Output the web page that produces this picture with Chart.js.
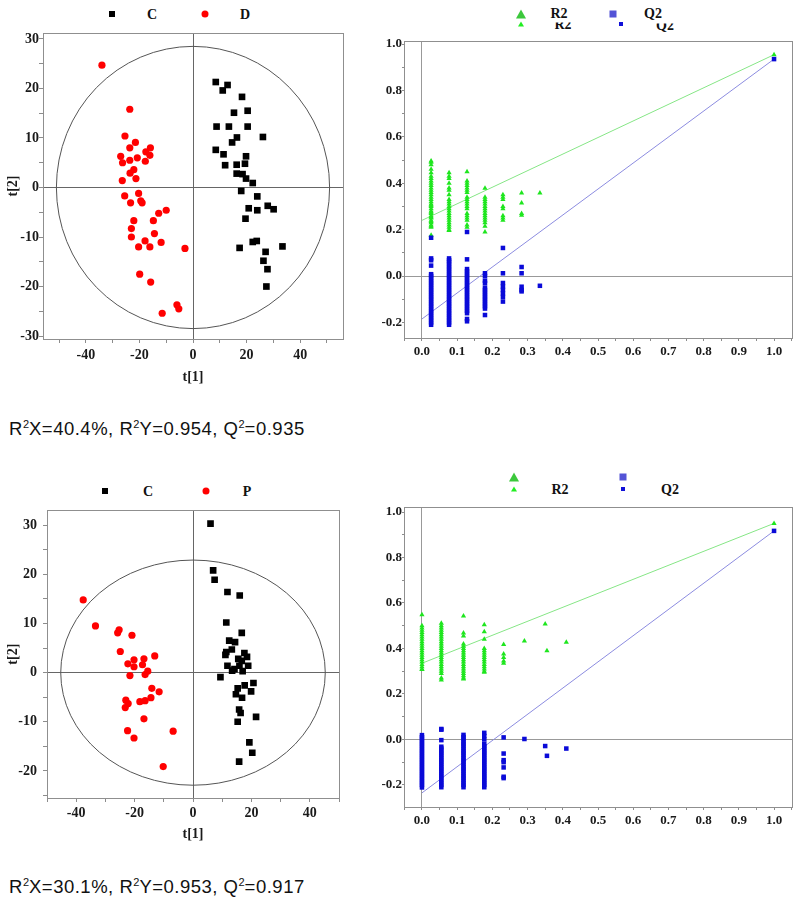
<!DOCTYPE html>
<html>
<head>
<meta charset="utf-8">
<script src="https://cdn.jsdelivr.net/npm/chart.js@4.4.1/dist/chart.umd.min.js"></script>
<style>
body { margin: 0; background: #fff; width: 800px; height: 913px; position: relative; overflow: hidden; }
canvas { position: absolute; }
.lg { position: absolute; font: bold 14px "Liberation Serif", serif; color: #111; transform: translate(-50%, -50%); white-space: nowrap; }
.mk { position: absolute; transform: translate(-50%, -50%); }
.tri { width: 0; height: 0; border-left: 5px solid transparent; border-right: 5px solid transparent; border-bottom: 9px solid #3cc83c; }
.tri.small { border-left-width: 3px; border-right-width: 3px; border-bottom: 5px solid #22ee22; }
.cut { clip-path: inset(35% 0 0 0); }
.cap { position: absolute; left: 9px; font: 18.5px "Liberation Sans", Arial, sans-serif; letter-spacing: 0.5px; color: #111; white-space: nowrap; }
.cap sup { font-size: 11px; vertical-align: 7px; line-height: 0; letter-spacing: 0; }
</style>
</head>
<body>

<!-- legends -->
<div class="mk" style="left:112px;top:14px;width:6px;height:6px;background:#000"></div>
<div class="lg" style="left:152px;top:15px">C</div>
<div class="mk" style="left:205px;top:14px;width:7px;height:7px;border-radius:50%;background:#f00"></div>
<div class="lg" style="left:245px;top:15px">D</div>

<div class="mk tri" style="left:521px;top:14px"></div>
<div class="lg" style="left:559px;top:14px">R2</div>
<div class="mk tri small" style="left:521px;top:24px"></div>
<div class="lg cut" style="left:563px;top:25px">R2</div>
<div class="mk" style="left:613px;top:14px;width:7px;height:7px;background:#5353d6"></div>
<div class="lg" style="left:653px;top:14px">Q2</div>
<div class="mk" style="left:621px;top:24px;width:4px;height:4px;background:#1010d8"></div>
<div class="lg cut" style="left:665px;top:26px">Q2</div>

<div class="mk" style="left:105px;top:491px;width:6px;height:6px;background:#000"></div>
<div class="lg" style="left:148px;top:492px">C</div>
<div class="mk" style="left:206px;top:491px;width:7px;height:7px;border-radius:50%;background:#f00"></div>
<div class="lg" style="left:247px;top:492px">P</div>

<div class="mk tri" style="left:514px;top:477px"></div>
<div class="mk" style="left:623px;top:477px;width:7px;height:7px;background:#5353d6"></div>
<div class="mk tri small" style="left:514px;top:489px"></div>
<div class="lg" style="left:560px;top:490px">R2</div>
<div class="mk" style="left:623px;top:489px;width:4px;height:4px;background:#1010d8"></div>
<div class="lg" style="left:670px;top:490px">Q2</div>

<canvas id="scoreCD" width="358" height="380" style="left:0;top:10px"></canvas>
<canvas id="permCD" width="440" height="340" style="left:360px;top:28px"></canvas>
<canvas id="scoreCP" width="352" height="351" style="left:0;top:496px"></canvas>
<canvas id="permCP" width="440" height="340" style="left:360px;top:494px"></canvas>

<div class="cap" style="top:418px">R<sup>2</sup>X=40.4%, R<sup>2</sup>Y=0.954, Q<sup>2</sup>=0.935</div>
<div class="cap" style="top:876px">R<sup>2</sup>X=30.1%, R<sup>2</sup>Y=0.953, Q<sup>2</sup>=0.917</div>

<script>
// ---- score plot C vs D : [t1, t2]
const scoreC_D_groupC = [
  [8.5, 21.3], [12.9, 20.7], [11.1, 19.6], [18.3, 18.3], [15.3, 15.1], [20.4, 15.5],
  [8.8, 12.3], [13.4, 12.3], [20.4, 12.3], [26.1, 10.2], [16.4, 10.1], [14.6, 9.1],
  [8.5, 7.6], [11.4, 6.7], [19.8, 6.3], [19.4, 4.8], [12.0, 4.5], [16.3, 4.6],
  [16.3, 2.8], [18.5, 2.7], [19.8, 1.8], [22.3, 0.9], [18.0, -0.7], [24.0, -1.8],
  [20.8, -4.2], [24.0, -4.6], [27.9, -3.7], [30.1, -4.4], [19.6, -6.3], [22.3, -11.0],
  [23.8, -10.8], [17.4, -12.2], [33.4, -11.9], [27.1, -13.0], [26.3, -14.8], [27.8, -16.5],
  [27.4, -20.0]
];
const scoreC_D_groupD = [
  [-34.0, 24.7], [-23.6, 15.8], [-25.4, 10.4], [-21.5, 9.1], [-23.6, 8.0], [-15.9, 8.0],
  [-17.6, 7.2], [-16.1, 6.5], [-27.0, 6.3], [-20.8, 6.0], [-23.6, 5.5], [-17.8, 5.3],
  [-26.3, 5.0], [-22.1, 3.6], [-23.5, 2.9], [-21.3, 1.8], [-26.4, 1.4], [-20.3, -1.2],
  [-25.5, -1.7], [-19.5, -2.7], [-23.3, -3.1], [-19.0, -3.1], [-10.0, -4.6], [-12.8, -5.2],
  [-22.1, -6.7], [-14.8, -6.7], [-23.0, -8.3], [-14.4, -9.3], [-23.0, -10.0], [-17.9, -10.8],
  [-11.9, -11.1], [-20.3, -12.0], [-16.1, -12.0], [-3.0, -12.3], [-19.9, -17.5], [-15.8, -19.1],
  [-6.0, -23.7], [-5.3, -24.5], [-11.5, -25.4]
];
const ellipseCD = { rx: 51, ry: 28.5 };

// ---- score plot C vs P : [t1, t2]
const scoreC_P_groupC = [
  [6.0, 30.3], [6.9, 20.8], [7.4, 18.9], [11.8, 16.4], [16.0, 15.7], [11.4, 10.2],
  [16.7, 8.1], [12.4, 6.5], [14.4, 6.2], [13.3, 4.7], [11.4, 4.2], [11.1, 3.6],
  [17.6, 4.0], [18.5, 3.2], [15.5, 2.8], [16.7, 2.4], [11.8, 1.4], [15.9, 1.4],
  [18.9, 1.4], [14.2, 0.7], [13.4, 0.4], [17.0, 0.3], [9.4, -0.9], [20.7, -2.1],
  [17.7, -2.6], [15.3, -3.2], [19.9, -3.8], [14.7, -4.4], [16.8, -5.1], [15.8, -7.5],
  [16.3, -8.2], [21.6, -9.0], [15.3, -10.0], [19.3, -14.2], [20.3, -16.3], [15.8, -18.1]
];
const scoreC_P_groupP = [
  [-37.6, 14.8], [-33.4, 9.5], [-25.3, 8.7], [-25.8, 8.1], [-20.9, 7.6], [-24.9, 4.3],
  [-13.1, 3.4], [-16.8, 2.8], [-20.2, 2.6], [-22.3, 1.8], [-17.3, 1.6], [-20.2, 1.2],
  [-15.5, 0.3], [-16.4, -0.4], [-21.6, -0.6], [-14.1, -3.2], [-11.6, -3.9], [-14.4, -5.1],
  [-23.0, -5.6], [-16.4, -5.7], [-18.2, -5.9], [-22.2, -6.3], [-23.2, -7.1], [-16.8, -9.4],
  [-22.4, -11.8], [-6.8, -11.9], [-20.2, -13.3], [-10.2, -19.1]
];
const ellipseCP = { rx: 45.3, ry: 22.9 };

// ---- permutation test C vs D (x = correlation, columns of R2 / Q2 values)
const permCD_x = [0.026, 0.077, 0.128, 0.179, 0.23, 0.283, 0.335];
const permCD_R2 = [
  [0.176, 0.21, 0.215, 0.22, 0.23, 0.235, 0.24, 0.25, 0.255, 0.26, 0.27, 0.275, 0.28, 0.29, 0.3, 0.305, 0.31, 0.32, 0.33, 0.34, 0.35, 0.36, 0.37, 0.38, 0.39, 0.4, 0.41, 0.42, 0.43, 0.445, 0.46, 0.48, 0.49, 0.496],
  [0.196, 0.2, 0.21, 0.22, 0.23, 0.24, 0.25, 0.26, 0.27, 0.28, 0.29, 0.3, 0.31, 0.32, 0.33, 0.35, 0.37, 0.38, 0.4, 0.42, 0.43, 0.445],
  [0.21, 0.22, 0.24, 0.25, 0.26, 0.27, 0.29, 0.3, 0.31, 0.32, 0.33, 0.34, 0.36, 0.37, 0.38, 0.39, 0.4, 0.41, 0.449],
  [0.19, 0.215, 0.23, 0.24, 0.25, 0.26, 0.27, 0.28, 0.29, 0.3, 0.31, 0.32, 0.33, 0.34, 0.378],
  [0.24, 0.25, 0.26, 0.29, 0.3, 0.33, 0.34, 0.35],
  [0.262, 0.27, 0.315, 0.358],
  [0.358]
];
const permCD_Q2 = [
  [0.165, 0.076, 0.068, 0.045, 0.008, 0.0, -0.01, -0.02, -0.03, -0.04, -0.05, -0.06, -0.07, -0.08, -0.09, -0.1, -0.11, -0.12, -0.13, -0.14, -0.15, -0.16, -0.17, -0.18, -0.19, -0.2, -0.21],
  [0.076, 0.068, 0.06, 0.05, 0.04, 0.03, 0.02, 0.01, 0.0, -0.01, -0.02, -0.03, -0.04, -0.05, -0.06, -0.07, -0.08, -0.09, -0.1, -0.11, -0.12, -0.13, -0.14, -0.15, -0.16, -0.17, -0.18, -0.19, -0.2, -0.21],
  [0.19, 0.072, 0.03, 0.02, 0.01, 0.0, -0.01, -0.02, -0.03, -0.04, -0.05, -0.06, -0.07, -0.08, -0.09, -0.1, -0.11, -0.12, -0.13, -0.14, -0.15, -0.16, -0.185, -0.195],
  [0.012, 0.0, -0.02, -0.03, -0.05, -0.06, -0.07, -0.08, -0.09, -0.1, -0.11, -0.12, -0.13, -0.14, -0.168],
  [0.121, 0.012, -0.03, -0.045, -0.06, -0.075, -0.09, -0.11],
  [0.039, 0.012, -0.046, -0.06, -0.066],
  [-0.042]
];
const permCD_model = { R2: 0.954, Q2: 0.935 };
const permCD_intercepts = { R2: 0.24, Q2: -0.185 };

// ---- permutation test C vs P
const permCP_x = [0.0, 0.055, 0.118, 0.177, 0.232, 0.291, 0.35, 0.355, 0.41];
const permCP_R2 = [
  [0.307, 0.31, 0.32, 0.33, 0.34, 0.35, 0.36, 0.37, 0.38, 0.39, 0.4, 0.41, 0.42, 0.43, 0.44, 0.45, 0.46, 0.47, 0.48, 0.49, 0.5, 0.548],
  [0.261, 0.27, 0.29, 0.3, 0.31, 0.32, 0.33, 0.34, 0.35, 0.36, 0.37, 0.38, 0.39, 0.4, 0.41, 0.42, 0.43, 0.44, 0.45, 0.46, 0.47, 0.48, 0.49, 0.5, 0.511],
  [0.266, 0.27, 0.28, 0.29, 0.3, 0.31, 0.32, 0.33, 0.34, 0.35, 0.36, 0.37, 0.38, 0.39, 0.4, 0.41, 0.42, 0.455, 0.468, 0.543],
  [0.295, 0.3, 0.31, 0.32, 0.33, 0.34, 0.35, 0.36, 0.37, 0.38, 0.39, 0.4, 0.44, 0.474, 0.504],
  [0.335, 0.345, 0.36, 0.376, 0.418],
  [0.433],
  [0.508],
  [0.39],
  [0.427]
];
const permCP_Q2 = [
  [0.019, 0.01, 0.0, -0.01, -0.02, -0.03, -0.04, -0.05, -0.06, -0.07, -0.08, -0.09, -0.1, -0.11, -0.12, -0.13, -0.14, -0.15, -0.16, -0.17, -0.18, -0.19, -0.2, -0.211],
  [0.046, 0.043, -0.003, -0.032, -0.04, -0.05, -0.06, -0.07, -0.08, -0.09, -0.1, -0.11, -0.12, -0.13, -0.14, -0.15, -0.16, -0.17, -0.18, -0.19, -0.2, -0.21],
  [0.02, 0.01, 0.0, -0.01, -0.02, -0.03, -0.04, -0.05, -0.06, -0.07, -0.08, -0.09, -0.1, -0.11, -0.12, -0.13, -0.14, -0.15, -0.16, -0.17, -0.18, -0.19, -0.2, -0.21],
  [0.029, 0.015, 0.0, -0.02, -0.03, -0.04, -0.05, -0.06, -0.07, -0.08, -0.09, -0.1, -0.11, -0.12, -0.13, -0.14, -0.15, -0.16, -0.17, -0.18, -0.19, -0.2, -0.21],
  [0.009, -0.062, -0.091, -0.1, -0.123, -0.164, -0.17],
  [0.002],
  [-0.029],
  [-0.072],
  [-0.04]
];
const permCP_model = { R2: 0.95, Q2: 0.917 };
const permCP_intercepts = { R2: 0.335, Q2: -0.235 };


const SERIF = '"Liberation Serif"';

// full box round the plot area (Chart.js only draws the left/bottom border)
const framePlugin = {
  id: 'frame',
  beforeDatasetsDraw(chart) {
    const a = chart.chartArea, ctx = chart.ctx;
    ctx.save();
    ctx.strokeStyle = '#8f8f8f';
    ctx.lineWidth = 1;
    ctx.strokeRect(Math.round(a.left) + 0.5, Math.round(a.top) + 0.5, Math.round(a.right - a.left), Math.round(a.bottom - a.top));
    ctx.restore();
  }
};

// Hotelling T2 ellipse, centred on 0,0 in data units
const ellipsePlugin = {
  id: 'hotelling',
  beforeDatasetsDraw(chart, args, opts) {
    if (!opts || !opts.rx) return;
    const { ctx, scales: { x, y } } = chart;
    const cx = x.getPixelForValue(0), cy = y.getPixelForValue(0);
    const rx = x.getPixelForValue(opts.rx) - cx;
    const ry = cy - y.getPixelForValue(opts.ry);
    ctx.save();
    ctx.beginPath();
    ctx.ellipse(cx, cy, rx, ry, 0, 0, Math.PI * 2);
    ctx.strokeStyle = '#555';
    ctx.lineWidth = 1;
    ctx.stroke();
    ctx.restore();
  }
};

function axis(o) {
  return {
    type: 'linear',
    min: o.min,
    max: o.max,
    afterFit: o.vertical ? s => { s.width = o.size; } : s => { s.height = o.size; },
    border: { display: false },
    grid: {
      color: c => (c.tick && Math.abs(c.tick.value) < 1e-9) ? o.zeroColor : 'rgba(0,0,0,0)',
      lineWidth: 1,
      tickLength: o.tickLen,
      tickColor: '#8c8c8c'
    },
    ticks: {
      stepSize: o.step,
      includeBounds: false,
      autoSkip: false,
      maxRotation: 0,
      padding: o.pad,
      color: '#1a1a1a',
      font: { family: SERIF, size: o.font, weight: 'bold' },
      callback: v => (Math.round(v / o.step) % o.every === 0) ? o.fmt(v) : ''
    },
    title: o.title ? {
      display: true,
      text: o.title,
      color: '#1a1a1a',
      font: { family: SERIF, size: 14, weight: 'bold' },
      padding: { top: 5, bottom: 4 }
    } : { display: false }
  };
}

const intFmt = v => String(Math.round(v));
const decFmt = v => (Math.round(v * 10) / 10).toFixed(1);

function pairs(list) {
  return list.map(([x, y]) => ({ x: x, y: y }));
}

function columns(xs, cols, extra) {
  const pts = [];
  cols.forEach((vals, i) => vals.forEach(v => pts.push({ x: xs[i], y: v })));
  pts.push(extra);
  return pts;
}

function scorePlot(id, groups, ell, xr, yr, pad, sizes, tick) {
  new Chart(document.getElementById(id), {
    type: 'scatter',
    data: {
      datasets: [
        { label: groups[0].name, data: pairs(groups[0].data), pointStyle: 'rect', pointRadius: 4.7,
          backgroundColor: '#000', pointBorderWidth: 0 },
        { label: groups[1].name, data: pairs(groups[1].data), pointStyle: 'circle', pointRadius: 3.6,
          backgroundColor: '#f00', pointBorderWidth: 0 }
      ]
    },
    options: {
      responsive: false,
      animation: false,
      layout: { padding: pad },
      plugins: { legend: { display: false }, tooltip: { enabled: false }, hotelling: ell },
      scales: {
        x: axis({ min: xr[0], max: xr[1], step: 10, every: 2, fmt: intFmt, size: sizes.x, tickLen: 4,
                  pad: tick.x, font: 14, title: 't[1]', zeroColor: '#666' }),
        y: axis({ min: yr[0], max: yr[1], step: 5, every: 2, fmt: intFmt, size: sizes.y, tickLen: 4,
                  pad: tick.y, font: 14, title: 't[2]', zeroColor: '#666', vertical: true })
      }
    },
    plugins: [framePlugin, ellipsePlugin]
  });
}

function permPlot(id, xs, r2, q2, model, icpt, yr, pad, sizes) {
  new Chart(document.getElementById(id), {
    type: 'scatter',
    data: {
      datasets: [
        { label: 'Q2', data: columns(xs, q2, { x: 1.0, y: model.Q2 }), pointStyle: 'rect', pointRadius: 3.2,
          backgroundColor: '#0a0ad8', pointBorderWidth: 0 },
        { label: 'R2', data: columns(xs, r2, { x: 1.0, y: model.R2 }), pointStyle: 'triangle', pointRadius: 3,
          backgroundColor: '#1ee61e', pointBorderWidth: 0 },
        { label: 'R2 fit', data: [{ x: 0, y: icpt.R2 }, { x: 1.0, y: model.R2 }], showLine: true, pointRadius: 0,
          borderColor: '#86e686', borderWidth: 1 },
        { label: 'Q2 fit', data: [{ x: 0, y: icpt.Q2 }, { x: 1.0, y: model.Q2 }], showLine: true, pointRadius: 0,
          borderColor: '#8c8ce0', borderWidth: 1 }
      ]
    },
    options: {
      responsive: false,
      animation: false,
      layout: { padding: pad },
      plugins: { legend: { display: false }, tooltip: { enabled: false } },
      scales: {
        x: axis({ min: -0.051, max: 1.051, step: 0.05, every: 2, fmt: decFmt, size: sizes.x, tickLen: 3,
                  pad: 3, font: 13, zeroColor: '#999' }),
        y: axis({ min: yr[0], max: yr[1], step: 0.1, every: 2, fmt: decFmt, size: sizes.y, tickLen: 2,
                  pad: 0, font: 13, zeroColor: '#999', vertical: true })
      }
    },
    plugins: [framePlugin]
  });
}

function drawAll() {
  scorePlot('scoreCD', [{ name: 'C', data: scoreC_D_groupC }, { name: 'D', data: scoreC_D_groupD }], ellipseCD,
    [-56, 56], [-30.6, 31.2], { top: 23, right: 15, left: 0, bottom: 0 }, { x: 51, y: 43 }, { x: 4, y: 0 });

  scorePlot('scoreCP', [{ name: 'C', data: scoreC_P_groupC }, { name: 'P', data: scoreC_P_groupP }], ellipseCP,
    [-50, 50], [-25.5, 33], { top: 13, right: 13, left: 0, bottom: 0 }, { x: 49, y: 47 }, { x: 3, y: 6 });

  permPlot('permCD', permCD_x, permCD_R2, permCD_Q2, permCD_model, permCD_intercepts,
    [-0.267, 1.013], { top: 13, right: 8, left: 0, bottom: 0 }, { x: 30, y: 44 });

  permPlot('permCP', permCP_x, permCP_R2, permCP_Q2, permCP_model, permCP_intercepts,
    [-0.297, 1.022], { top: 13, right: 8, left: 0, bottom: 0 }, { x: 27, y: 44 });
}

// canvas text does not pull the font in by itself, so load it first
Promise.all([
  document.fonts.load('bold 14px "Liberation Serif"'),
  document.fonts.load('bold 13px "Liberation Serif"')
]).then(drawAll, drawAll);
</script>
</body>
</html>
